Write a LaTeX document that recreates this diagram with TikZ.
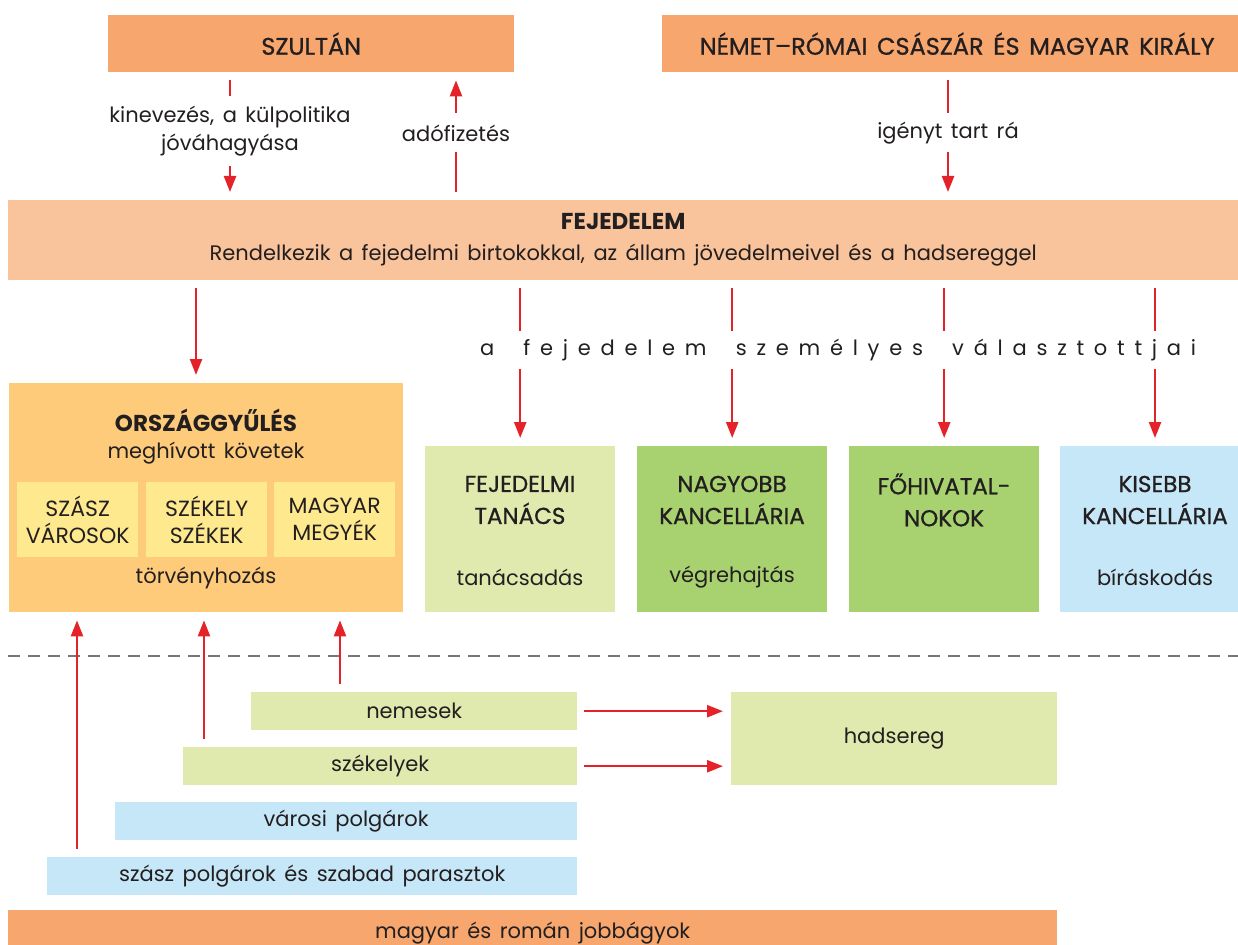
\documentclass[tikz,border=0pt]{standalone}
\usepackage{fontspec}
\setmainfont{Poppins}[WordSpace=1.5]
\newfontfamily\kozep{Poppins}[FakeBold=0.9,WordSpace=1.5]
\usetikzlibrary{arrows.meta}
\definecolor{narancs}{HTML}{F7A66D}
\definecolor{halvany}{HTML}{F9C39B}
\definecolor{orszag}{HTML}{FDCB7A}
\definecolor{sarga}{HTML}{FEE98F}
\definecolor{vzold}{HTML}{E0EAAE}
\definecolor{zold}{HTML}{A8D26F}
\definecolor{kek}{HTML}{C5E7F7}
\definecolor{piros}{HTML}{E42229}
\definecolor{szurke}{HTML}{767676}
\definecolor{betu}{HTML}{231F20}

\begin{document}
\begin{tikzpicture}[x=1pt,y=-1pt,
	box/.style={anchor=north west, inner sep=0pt, align=center, text=betu},
	felirat/.style={inner sep=0pt, align=center, text=betu, font=\fontsize{21}{28}\selectfont},
	cim/.style={inner sep=0pt, align=center, text=betu, font=\fontsize{23}{32}\selectfont\kozep},
	arr/.style={draw=piros, line width=2.4pt, -{Triangle[width=12pt,length=16pt]}, shorten <=8pt, shorten >=8pt}]
	\useasboundingbox (0,0) rectangle (1238,944);

	% felso sor
	\node[box, fill=narancs, minimum width=406, minimum height=57, font=\fontsize{24}{28}\selectfont\kozep] (szultan) at (108,15) {SZULTÁN};
	\node[box, fill=narancs, minimum width=590, minimum height=57, font=\fontsize{24}{28}\selectfont\kozep] (csaszar) at (662,15) {NÉMET–RÓMAI CSÁSZÁR ÉS MAGYAR KIRÁLY};
	\node[box, fill=halvany, minimum width=1230, minimum height=80, font=\fontsize{21}{31}\selectfont] (fej) at (8,200) {{\fontsize{23}{31}\selectfont\bfseries FEJEDELEM}\\Rendelkezik a fejedelmi birtokokkal, az állam jövedelmeivel és a hadsereggel};

	\draw[arr] (230,0 |- szultan.south) -- (230,0 |- fej.north);
	\draw[arr] (456,0 |- fej.north) -- (456,0 |- szultan.south);
	\draw[arr] (948,0 |- csaszar.south) -- (948,0 |- fej.north);
	\node[felirat, fill=white, minimum height=70] (kinevezes) at (230,131) {kinevezés, a külpolitika\\jóváhagyása};
	\node[felirat, fill=white, minimum height=39] (adofiz) at (456,133) {adófizetés};
	\node[felirat, fill=white, minimum height=39] (igeny) at (948,133) {igényt tart rá};

	% orszaggyules
	\node[box, fill=orszag, minimum width=394, minimum height=229] (orszag) at (9,383) {};
	\node[inner sep=0pt, text=betu, font=\fontsize{23}{28}\selectfont\bfseries] (orszcim) at (206,420) {ORSZÁGGYŰLÉS};
	\node[felirat] (kovetek) at (206,453) {meghívott követek};
	\node[box, fill=sarga, minimum width=121, minimum height=75, font=\fontsize{22}{27}\selectfont] (szasz) at (17,482) {SZÁSZ\\VÁROSOK};
	\node[box, fill=sarga, minimum width=121, minimum height=75, font=\fontsize{22}{27}\selectfont] (szekely) at (146,482) {SZÉKELY\\SZÉKEK};
	\node[box, fill=sarga, minimum width=121, minimum height=75, font=\fontsize{22}{27}\selectfont] (megye) at (274,482) {MAGYAR\\MEGYÉK};
	\node[felirat] (torveny) at (206,578) {törvényhozás};

	% hivatalok
	\node[box, fill=vzold, minimum width=190, minimum height=166] (tanacs) at (425,446) {};
	\node[box, fill=zold, minimum width=190, minimum height=166] (nagyk) at (637,446) {};
	\node[box, fill=zold, minimum width=190, minimum height=166] (fohiv) at (849,446) {};
	\node[box, fill=kek, minimum width=190, minimum height=166] (kisk) at (1060,446) {};
	\node[cim] (tanacscim) at (520,500) {FEJEDELMI\\TANÁCS};
	\node[cim] (nagykcim) at (732,500) {NAGYOBB\\KANCELLÁRIA};
	\node[cim] (fohivcim) at (944,500) {FŐHIVATAL-\\NOKOK};
	\node[cim] (kiskcim) at (1155,500) {KISEBB\\KANCELLÁRIA};
	\node[felirat] (tanacsad) at (520,577) {tanácsadás};
	\node[felirat] (vegreh) at (732,577) {végrehajtás};
	\node[felirat] (biras) at (1155,577) {bíráskodás};

	\draw[arr] (196,0 |- fej.south) -- (196,0 |- orszag.north);
	\draw[arr] (tanacs.north |- fej.south) -- (tanacs.north);
	\draw[arr] (nagyk.north |- fej.south) -- (nagyk.north);
	\draw[arr] (fohiv.north |- fej.south) -- (fohiv.north);
	\draw[arr] (1155,0 |- fej.south) -- (1155,0 |- kisk.north);
	\node[felirat, fill=white, minimum height=38] (valasztott) at (838,350) {\makebox[716pt][s]{a\hfill\hfill\hfill f\hfill e\hfill j\hfill e\hfill d\hfill e\hfill l\hfill e\hfill m\hfill\hfill\hfill s\hfill z\hfill e\hfill m\hfill é\hfill l\hfill y\hfill e\hfill s\hfill\hfill\hfill v\hfill á\hfill l\hfill a\hfill s\hfill z\hfill t\hfill o\hfill t\hfill t\hfill j\hfill a\hfill i}};

	% valaszvonal
	\draw[szurke, line width=2.6pt, dash pattern=on 12pt off 8pt] (8,656) -- (1238,656);

	% rendek
	\node[box, fill=vzold, minimum width=326, minimum height=38, font=\fontsize{21}{24}\selectfont] (nemesek) at (251,692) {nemesek};
	\node[box, fill=vzold, minimum width=394, minimum height=38, font=\fontsize{21}{24}\selectfont] (szekelyek) at (183,747) {székelyek};
	\node[box, fill=kek, minimum width=462, minimum height=38, font=\fontsize{21}{24}\selectfont] (varosi) at (115,802) {városi polgárok};
	\node[box, fill=kek, minimum width=530, minimum height=38, font=\fontsize{21}{24}\selectfont] (parasztok) at (47,857) {szász polgárok és szabad parasztok};
	\node[box, fill=narancs, minimum width=1049, minimum height=46, font=\fontsize{21}{24}\selectfont] (jobbagyok) at (8,910) {magyar és román jobbágyok};
	\node[box, fill=vzold, minimum width=326, minimum height=93, font=\fontsize{21}{24}\selectfont] (hadsereg) at (731,692) {hadsereg};

	\draw[arr, shorten <=7pt] (nemesek.east) -- (nemesek.east -| hadsereg.west);
	\draw[arr, shorten <=7pt] (szekelyek.east) -- (szekelyek.east -| hadsereg.west);
	\draw[arr] ([xshift=89pt]nemesek.north west) -- ([xshift=89pt]nemesek.north west |- orszag.south);
	\draw[arr] ([xshift=21pt]szekelyek.north west) -- ([xshift=21pt]szekelyek.north west |- orszag.south);
	\draw[arr] ([xshift=30pt]parasztok.north west) -- ([xshift=30pt]parasztok.north west |- orszag.south);
\end{tikzpicture}
\end{document}
